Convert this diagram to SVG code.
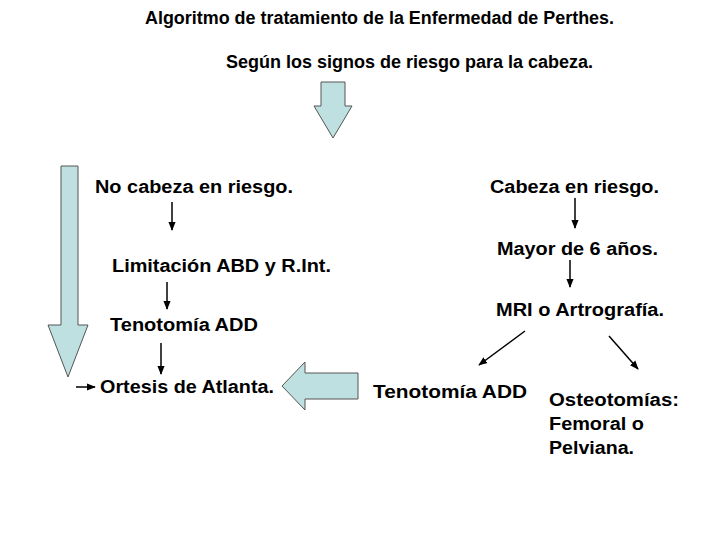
<svg xmlns="http://www.w3.org/2000/svg" width="720" height="540" viewBox="0 0 720 540">
<style>
text{font-family:"Liberation Sans",Arial,sans-serif;font-weight:bold;font-size:18px;fill:#000}
.big{fill:#bfe0e0;stroke:#555;stroke-width:1}
.ln{stroke:#000;stroke-width:1.5;fill:none;marker-end:url(#ah)}
</style>
<defs><marker id="ah" viewBox="0 0 10 10" refX="9" refY="5" markerWidth="6" markerHeight="6" orient="auto"><path d="M0,1 L10,5 L0,9 z" fill="#000"/></marker></defs>
<rect width="720" height="540" fill="#fff"/>
<g id="title"><text x="145" y="24" font-size="15.5" textLength="469" lengthAdjust="spacingAndGlyphs">Algoritmo de tratamiento de la Enfermedad de Perthes.</text>
<text x="226" y="68" font-size="15.5" textLength="367" lengthAdjust="spacingAndGlyphs">Según los signos de riesgo para la cabeza.</text></g>
<g id="n1"><text x="95" y="193" textLength="198" lengthAdjust="spacingAndGlyphs">No cabeza en riesgo.</text></g>
<g id="n2"><text x="112" y="272" textLength="219" lengthAdjust="spacingAndGlyphs">Limitación ABD y R.Int.</text></g>
<g id="n3"><text x="110" y="331" textLength="148" lengthAdjust="spacingAndGlyphs">Tenotomía ADD</text></g>
<g id="n4"><text x="100" y="393" textLength="174" lengthAdjust="spacingAndGlyphs">Ortesis de Atlanta.</text></g>
<g id="n5"><text x="490" y="193" textLength="169" lengthAdjust="spacingAndGlyphs">Cabeza en riesgo.</text></g>
<g id="n6"><text x="497" y="255" textLength="161" lengthAdjust="spacingAndGlyphs">Mayor de 6 años.</text></g>
<g id="n7"><text x="496" y="316" textLength="168" lengthAdjust="spacingAndGlyphs">MRI o Artrografía.</text></g>
<g id="n8"><text x="373" y="398" font-family="'DejaVu Sans',sans-serif" font-size="17" textLength="154" lengthAdjust="spacingAndGlyphs">Tenotomía ADD</text></g>
<g id="n9"><text x="549" y="406" textLength="130" lengthAdjust="spacingAndGlyphs">Osteotomías:</text><text x="549" y="430" textLength="95" lengthAdjust="spacingAndGlyphs">Femoral o</text><text x="549" y="454" textLength="85" lengthAdjust="spacingAndGlyphs">Pelviana.</text></g>
<g id="connectors">
<path class="big" d="M321,82 H345 V106 H352 L333,138 L314,106 H321 Z"/>
<path class="big" d="M61,166 H78 V325 H88 L68,377 L48,325 H61 Z"/>
<path class="big" d="M358,373 V399 H305 V410 L282,386 L305,362 V373 Z"/>
<path class="ln" d="M172,202 V230"/>
<path class="ln" d="M167,282 V309"/>
<path class="ln" d="M161,343 V374"/>
<path class="ln" d="M76,387 H95"/>
<path class="ln" d="M575,198 V228"/>
<path class="ln" d="M570,260 V287"/>
<path class="ln" d="M525,331 L479,365"/>
<path class="ln" d="M609,336 L638,369"/>
</g>
</svg>
